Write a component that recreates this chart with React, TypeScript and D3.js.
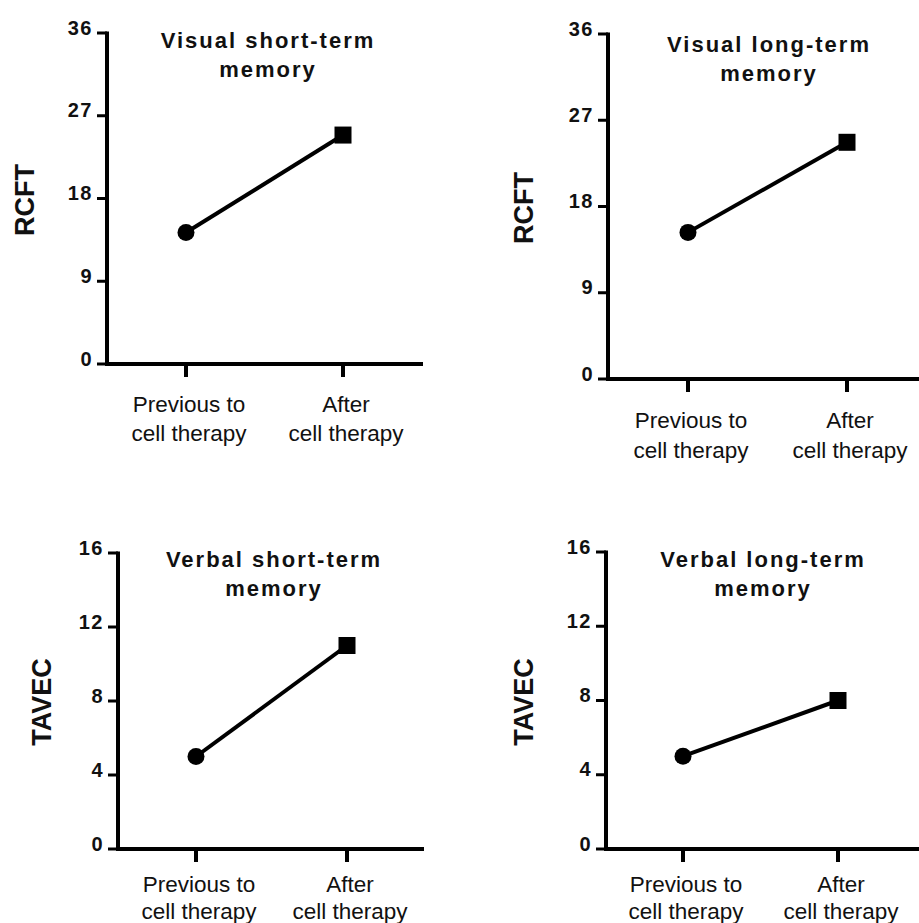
import React from "react";
import * as d3 from "d3";

const categories = ["Previous to|cell therapy", "After|cell therapy"];
const visualShortTerm = [14.3, 24.9];
const visualLongTerm = [15.3, 24.7];
const verbalShortTerm = [5, 11];
const verbalLongTerm = [5, 8];
const rcftTicks = [0, 9, 18, 27, 36];
const tavecTicks = [0, 4, 8, 12, 16];
const titles = [
  "Visual short-term|memory",
  "Visual long-term|memory",
  "Verbal short-term|memory",
  "Verbal long-term|memory",
];
const yLabels = ["RCFT", "RCFT", "TAVEC", "TAVEC"];

const FONT = "'Liberation Sans', Arial, Helvetica, sans-serif";

type Layout = {
  ax: number; top: number; bottom: number; xEnd: number; cx: [number, number];
  ylx: number; yly: number; tx: number; tb: number; lb: number; ls: number;
};

const layouts: Layout[] = [
  { ax: 107, top: 33, bottom: 364, xEnd: 423, cx: [186, 343], ylx: 25, yly: 200, tx: 267, tb: 48, lb: 412, ls: 29 },
  { ax: 608, top: 34, bottom: 379, xEnd: 919, cx: [688, 847], ylx: 524, yly: 208, tx: 768, tb: 52, lb: 428, ls: 30 },
  { ax: 118, top: 553, bottom: 849, xEnd: 424, cx: [196, 347], ylx: 42, yly: 702, tx: 273, tb: 567, lb: 892, ls: 27 },
  { ax: 606, top: 552, bottom: 849, xEnd: 919, cx: [683, 838], ylx: 524, yly: 702, tx: 762, tb: 567, lb: 892, ls: 27 },
];

const panelData = [visualShortTerm, visualLongTerm, verbalShortTerm, verbalLongTerm];
const panelTicks = [rcftTicks, rcftTicks, tavecTicks, tavecTicks];

function Panel({ i }: { i: number }) {
  const L = layouts[i];
  const ticks = panelTicks[i];
  const values = panelData[i];
  const y = d3.scaleLinear().domain([0, ticks[ticks.length - 1]]).range([L.bottom, L.top]);
  const x = d3.scalePoint<string>().domain(categories).range(L.cx);
  const pts: [number, number][] = values.map((v, k) => [x(categories[k])!, y(v)]);
  const line = d3.line()(pts)!;
  const sq = 17;
  return (
    <g>
      {/* y axis */}
      <line x1={L.ax} x2={L.ax} y1={L.top - 1.5} y2={L.bottom + 2} stroke="#000" strokeWidth={4} />
      {ticks.map((t) => (
        <g key={t}>
          <line x1={L.ax - 10} x2={L.ax} y1={y(t)} y2={y(t)} stroke="#000" strokeWidth={3} />
          <text x={L.ax - 14} y={y(t) + 1.5} textAnchor="end" fontFamily={FONT} fontWeight="bold"
            fontSize={20} letterSpacing={1.5} fill="#111">{t}</text>
        </g>
      ))}
      {/* x axis */}
      <line x1={L.ax - 2} x2={L.xEnd} y1={L.bottom} y2={L.bottom} stroke="#000" strokeWidth={4} />
      {categories.map((c) => (
        <g key={c}>
          <line x1={x(c)!} x2={x(c)!} y1={L.bottom} y2={L.bottom + 13} stroke="#000" strokeWidth={4} />
          {c.split("|").map((s, k) => (
            <text key={k} x={x(c)! + 3} y={L.lb + k * L.ls} textAnchor="middle" fontFamily={FONT}
              fontSize={22.5} fill="#111">{s}</text>
          ))}
        </g>
      ))}
      {/* title */}
      {titles[i].split("|").map((s, k) => (
        <text key={k} x={L.tx + 1} y={L.tb + k * 29} textAnchor="middle" fontFamily={FONT} fontWeight="bold"
          fontSize={22} letterSpacing={2} fill="#111">{s}</text>
      ))}
      {/* y label */}
      <text transform={`translate(${L.ylx},${L.yly}) rotate(-90)`} textAnchor="middle" dominantBaseline="central"
        fontFamily={FONT} fontWeight="bold" fontSize={27} fill="#111">{yLabels[i]}</text>
      {/* data */}
      <path d={line} fill="none" stroke="#000" strokeWidth={4} />
      <circle cx={pts[0][0]} cy={pts[0][1]} r={8.5} fill="#000" />
      <rect x={pts[1][0] - sq / 2} y={pts[1][1] - sq / 2} width={sq} height={sq} fill="#000" />
    </g>
  );
}

export default function App() {
  return (
    <svg width={919} height={923} style={{ position: "absolute", left: 0, top: 0, background: "#fff" }}>
      <rect width={919} height={923} fill="#fff" />
      {[0, 1, 2, 3].map((i) => <Panel key={i} i={i} />)}
    </svg>
  );
}
